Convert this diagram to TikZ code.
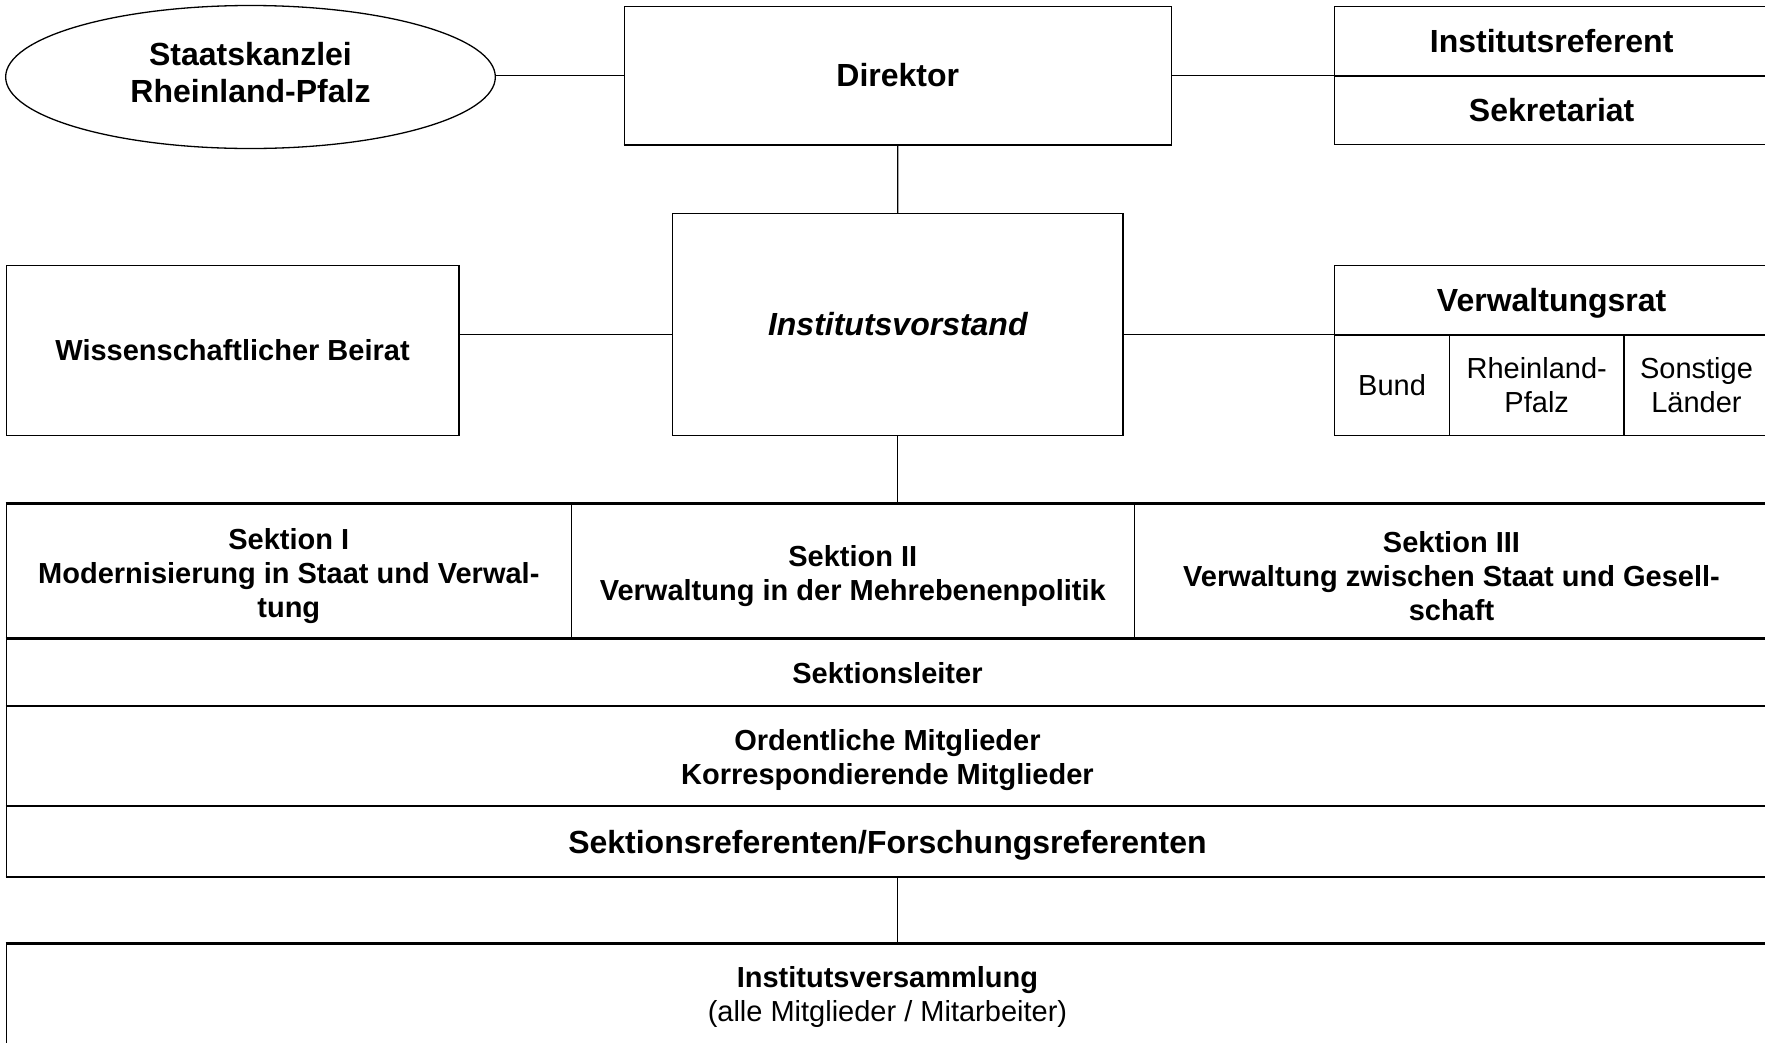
\documentclass[tikz,border=0pt]{standalone}
\usepackage{fontspec}
\setmainfont{Liberation Sans}
\usetikzlibrary{shapes.geometric}
\begin{document}
\begin{tikzpicture}[x=1pt,y=-1pt,
  box/.style={draw,line width=1.3pt,rectangle,inner sep=0pt,anchor=north west},
  big/.style={font=\fontsize{32}{37}\selectfont\bfseries,align=center},
  small/.style={font=\fontsize{29}{34}\selectfont\bfseries,align=center},
  plain/.style={font=\fontsize{29}{34}\selectfont,align=center},
  conn/.style={line width=1.3pt},
  rowline/.style={line width=2pt}]
\useasboundingbox (0,0) rectangle (1765,1042);
\clip (0,0) rectangle (1765,1042);
\fill[white] (0,0) rectangle (1765,1042);

% top row
\node[draw,line width=1.3pt,ellipse,inner sep=0pt,minimum width=489.7pt,minimum height=143pt] (ell) at (250.5,77) {};
\node[big] (ellt) at ([yshift=4.5pt]ell.center) {Staatskanzlei\\Rheinland-Pfalz};
\node[box,big,minimum width=547.1pt,minimum height=138.5pt] (dir) at (623.6,5.6) {Direktor};
\node[box,big,minimum width=434pt,minimum height=69.8pt] (ref) at (1334,5.6) {Institutsreferent};
\node[box,big,minimum width=434pt,minimum height=68.7pt] (sek) at (1334,75.4) {Sekretariat};

% middle row
\node[box,big,minimum width=450.3pt,minimum height=221.7pt] (vor) at (672,212.8) {\itshape Institutsvorstand};
\node[box,small,minimum width=452.6pt,minimum height=170pt] (bei) at (5.6,264.5) {Wissenschaftlicher Beirat};
\node[box,minimum width=434pt,minimum height=69.8pt] (vr) at (1334,264.5) {};
\node[big] (vrt) at ([yshift=-3.4pt]vr.center) {Verwaltungsrat};
\node[box,plain,minimum width=114.8pt,minimum height=100.2pt] (bund) at (1334,334.3) {Bund};
\node[box,plain,minimum width=174.5pt,minimum height=100.2pt] (rlp) at (1448.8,334.3) {Rheinland-\\Pfalz};
\node[box,plain,minimum width=145pt,minimum height=100.2pt] (sl) at (1623.3,334.3) {Sonstige\\Länder};

% sections table
\node[box,minimum width=565.1pt,minimum height=135.1pt] (s1) at (5.6,503.2) {};
\node[box,minimum width=562.9pt,minimum height=135.1pt] (s2) at (570.7,503.2) {};
\node[box,minimum width=634.4pt,minimum height=135.1pt] (s3) at (1133.6,503.2) {};
\node[small] (s1t) at ([yshift=-4.5pt]s1.center) {Sektion I\\Modernisierung in Staat und Verwal-\\tung};
\node[small] (s2t) at ([yshift=-4.5pt]s2.center) {Sektion II\\Verwaltung in der Mehrebenenpolitik};
\node[small] (s3t) at ([yshift=-4.5pt]s3.center) {Sektion III\\Verwaltung zwischen Staat und Gesell-\\schaft};
\node[box,small,minimum width=1762.4pt,minimum height=67.5pt] (sleit) at (5.6,638.3) {Sektionsleiter};
\node[box,minimum width=1762.4pt,minimum height=100.2pt] (mitgl) at (5.6,705.8) {};
\node[small] (mitglt) at ([yshift=-4pt]mitgl.center) {Ordentliche Mitglieder\\Korrespondierende Mitglieder};
\node[box,minimum width=1762.4pt,minimum height=69.8pt] (sref) at (5.6,806) {};
\node[big] (sreft) at ([yshift=-3.4pt]sref.center) {Sektionsreferenten/Forschungsreferenten};
\node[box,minimum width=1762.4pt,minimum height=102pt] (iv) at (5.6,943.3) {};
\node[plain] (ivt) at ([yshift=-2.3pt]iv.center) {{\bfseries Institutsversammlung}\\(alle Mitglieder / Mitarbeiter)};

% thicker horizontal rules of the table
\draw[rowline] (s1.north west) -- (s3.north east);
\draw[rowline] (sleit.north west) -- (sleit.north east);
\draw[rowline] (mitgl.north west) -- (mitgl.north east);
\draw[rowline] (sref.north west) -- (sref.north east);
\draw[rowline] (sref.south west) -- (sref.south east);
\draw[rowline] (iv.north west) -- (iv.north east);
\draw[rowline] (dir.south west) -- (dir.south east);

% connectors
\draw[conn] (dir.west) -- (dir.west -| ell.east);
\draw[conn] (dir.east) -- (dir.east -| ref.west);
\draw[conn] (dir.south) -- (vor.north);
\draw[conn] (bei.east |- bund.north) -- (vor.west |- bund.north);
\draw[conn] (vor.east |- bund.north) -- (bund.north west);
\draw[conn] (vor.south) -- (vor.south |- s2.north);
\draw[conn] (vor.south |- sref.south) -- (vor.south |- iv.north);
\end{tikzpicture}
\end{document}
